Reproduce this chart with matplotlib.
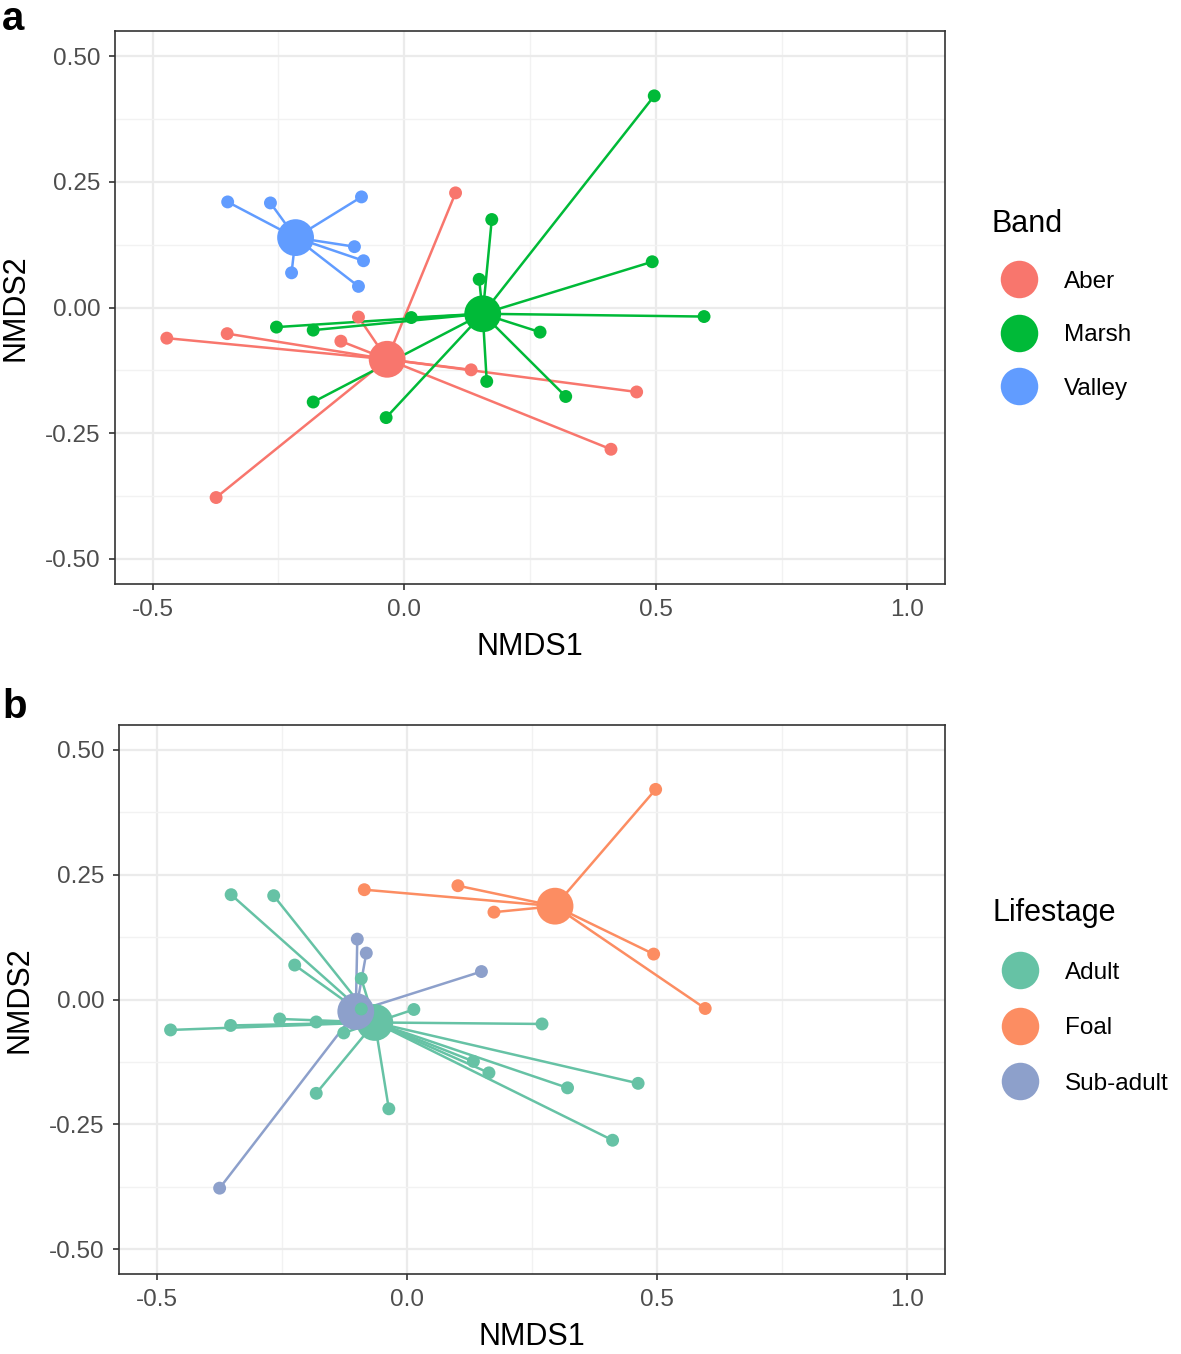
import matplotlib
matplotlib.use("Agg")
import matplotlib.pyplot as plt
from matplotlib.lines import Line2D
import numpy as np

plt.rcParams['font.family'] = ['Liberation Sans', 'DejaVu Sans']

# ---- data (NMDS scores of samples) ----
nmds1 = [-0.351, -0.266, -0.085, -0.099, -0.081, -0.224, -0.091,
         0.102, -0.472, -0.352, -0.091, -0.126, 0.133, -0.374, 0.462, 0.411,
         0.497, 0.493, 0.596, 0.174, 0.149, 0.014, -0.254, -0.181, 0.270,
         0.164, 0.321, -0.181, -0.036]
nmds2 = [0.210, 0.208, 0.220, 0.121, 0.093, 0.069, 0.042,
         0.228, -0.061, -0.052, -0.019, -0.067, -0.124, -0.378, -0.168, -0.282,
         0.421, 0.091, -0.018, 0.175, 0.056, -0.020, -0.039, -0.045, -0.049,
         -0.147, -0.177, -0.188, -0.219]
band = (['Valley'] * 7) + (['Aber'] * 9) + (['Marsh'] * 13)
lifestage = ['Adult', 'Adult', 'Foal', 'Sub-adult', 'Sub-adult', 'Adult', 'Adult',
             'Foal', 'Adult', 'Adult', 'Adult', 'Adult', 'Adult', 'Sub-adult', 'Adult', 'Adult',
             'Foal', 'Foal', 'Foal', 'Foal', 'Sub-adult', 'Adult', 'Adult', 'Adult', 'Adult',
             'Adult', 'Adult', 'Adult', 'Adult']

band_levels = ['Aber', 'Marsh', 'Valley']
band_cent_x = [-0.034, 0.156, -0.216]
band_cent_y = [-0.103, -0.0125, 0.139]
band_colors = ['#F8766D', '#00BA38', '#619CFF']

life_levels = ['Adult', 'Foal', 'Sub-adult']
life_cent_x = [-0.064, 0.296, -0.102]
life_cent_y = [-0.046, 0.187, -0.024]
life_colors = ['#66C2A5', '#FC8D62', '#8DA0CB']

x_ticks = [-0.5, 0.0, 0.5, 1.0]
x_ticklabels = ['-0.5', '0.0', '0.5', '1.0']
y_ticks = [-0.5, -0.25, 0.0, 0.25, 0.5]
y_ticklabels = ['-0.50', '-0.25', '0.00', '0.25', '0.50']

W, H = 1181, 1354
fig = plt.figure(figsize=(W / 100, H / 100), dpi=100)

x = np.array(nmds1)
y = np.array(nmds2)

TICK_FS = 17.5
TITLE_FS = 22


def panel(rect, groups, levels, cx, cy, colors, legend_title, leg_anchor, spacing,
          letter, letter_pos):
    ax = fig.add_axes(rect)
    groups = np.array(groups)
    # spider segments
    for lev, gx, gy, col in zip(levels, cx, cy, colors):
        m = groups == lev
        for px, py in zip(x[m], y[m]):
            ax.plot([gx, px], [gy, py], color=col, lw=1.8, zorder=2, solid_capstyle='butt')
    # centroids
    for lev, gx, gy, col in zip(levels, cx, cy, colors):
        ax.scatter([gx], [gy], s=26.5 ** 2, color=col, edgecolors='none', zorder=3)
    # sample points
    for lev, col in zip(levels, colors):
        m = groups == lev
        ax.scatter(x[m], y[m], s=9.3 ** 2, color=col, edgecolors='none', zorder=4)

    ax.set_xlim(-0.575, 1.075)
    ax.set_ylim(-0.55, 0.55)
    ax.set_xticks(x_ticks)
    ax.set_xticklabels(x_ticklabels)
    ax.set_yticks(y_ticks)
    ax.set_yticklabels(y_ticklabels)
    ax.set_xticks([-0.25, 0.25, 0.75], minor=True)
    ax.set_yticks([-0.375, -0.125, 0.125, 0.375], minor=True)
    ax.grid(which='major', color='#EBEBEB', lw=1.6, zorder=0)
    ax.grid(which='minor', color='#F2F2F2', lw=1.0, zorder=0)
    ax.set_axisbelow(True)
    ax.tick_params(which='major', length=4, width=1.2, color='#333333',
                   labelsize=TICK_FS, labelcolor='#4D4D4D', pad=6.5)
    ax.tick_params(which='minor', length=0)
    for sp in ax.spines.values():
        sp.set_color('#333333')
        sp.set_linewidth(1.2)
    ax.set_xlabel('NMDS1', fontsize=TITLE_FS, labelpad=8)
    ax.set_ylabel('NMDS2', fontsize=TITLE_FS, labelpad=10)

    handles = [Line2D([], [], marker='o', linestyle='none', markersize=27,
                      markerfacecolor=c, markeredgecolor='none') for c in colors]
    fig.legend(handles, levels, title=legend_title, loc='upper left',
               bbox_to_anchor=leg_anchor, frameon=False,
               fontsize=TICK_FS, title_fontsize=TITLE_FS,
               labelspacing=spacing, handlelength=2.2, handletextpad=0.75,
               borderpad=0, borderaxespad=0, alignment='left')
    fig.text(letter_pos[0], letter_pos[1], letter, fontsize=29, fontweight='bold',
             ha='left', va='top')
    return ax


axa = panel([115 / W, 1 - 584 / H, 830 / W, 553 / H], band, band_levels,
            band_cent_x, band_cent_y, band_colors, 'Band',
            (992 / W, 1 - 209 / H), 1.3, 'a', (2 / W, 1 - 0 / H))
axb = panel([119 / W, 1 - 1274 / H, 826 / W, 549 / H], lifestage, life_levels,
            life_cent_x, life_cent_y, life_colors, 'Lifestage',
            (993 / W, 1 - 898 / H), 1.38, 'b', (2 / W, 1 - 688 / H))

fig.savefig('out.png', dpi=100)
